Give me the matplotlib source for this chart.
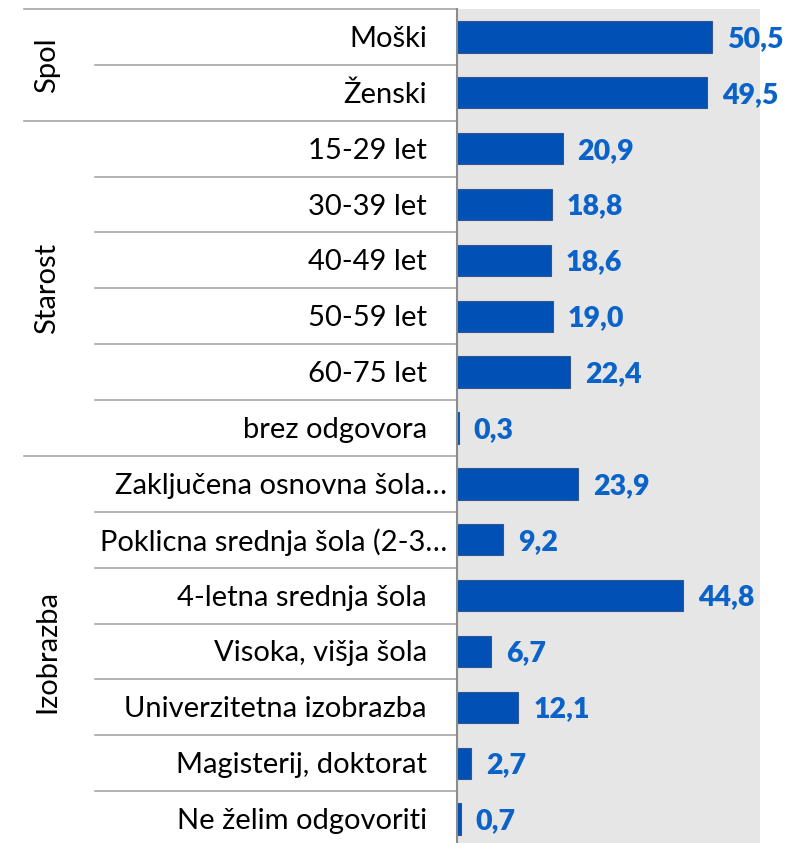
import matplotlib.pyplot as plt
from matplotlib.transforms import blended_transform_factory

# podatki
categories = ["Moški", "Ženski",
              "15-29 let", "30-39 let", "40-49 let", "50-59 let", "60-75 let", "brez odgovora",
              "Zaključena osnovna šola…", "Poklicna srednja šola (2-3…", "4-letna srednja šola",
              "Visoka, višja šola", "Univerzitetna izobrazba", "Magisterij, doktorat",
              "Ne želim odgovoriti"]
values = [50.5, 49.5, 20.9, 18.8, 18.6, 19.0, 22.4, 0.3, 23.9, 9.2, 44.8, 6.7, 12.1, 2.7, 0.7]
groups = ["Spol", "Starost", "Izobrazba"]
group_sizes = [2, 6, 7]

plt.rcParams['font.family'] = ['Lato', 'DejaVu Sans']
FS = 21
W, H = 788, 843
fig = plt.figure(figsize=(W / 100, H / 100), dpi=100)
ax = fig.add_axes([457 / W, -4 / H, (760 - 457) / W, (847 - 9) / H])
ax.set_facecolor('#e6e6e6')

y = list(range(len(values)))
ax.barh(y, values, height=0.56, color='#0050b5', edgecolor='#34578f', linewidth=0.8)
for yi, v in zip(y, values):
    ax.annotate(f"{v:.1f}".replace('.', ','), (v, yi), xytext=(15, -2), textcoords='offset pixels',
                va='center', ha='left', fontsize=FS - 0.5, fontweight='heavy', color='#0b63c9')

ax.set_xlim(0, 60)
ax.set_ylim(len(values) - 0.5, -0.5)
ax.set_xticks([])
ax.set_yticks([])
for s in ['top', 'right', 'bottom']:
    ax.spines[s].set_visible(False)
ax.spines['left'].set_color('#8c8c8c')
ax.spines['left'].set_linewidth(1.5)

# oznake kategorij (prirezane segajo dlje desno)
for yi, c in zip(y, categories):
    dx = -30 if not c.endswith('…') else -10
    ax.annotate(c, (0, yi), xycoords=('axes fraction', 'data'), xytext=(dx, -2),
                textcoords='offset pixels', ha='right', va='center', fontsize=FS, color='black')

# razdelilne črte na levi
tr = blended_transform_factory(fig.transFigure, ax.transData)
starts = [-0.5]
for n in group_sizes:
    starts.append(starts[-1] + n)
for k in range(len(values) + 1):
    yb = k - 0.5
    x0 = 24 / W if yb in starts else 95 / W
    ax.plot([x0, 457 / W], [yb, yb], transform=tr, color='#a6a6a6', lw=1.2, clip_on=False)

for g, a, b in zip(groups, starts[:-1], starts[1:]):
    fig.text(47 / W, 0, g, rotation=90, ha='center', va='center', fontsize=FS,
             transform=tr).set_y((a + b) / 2)

fig.savefig("out.png", dpi=100)
